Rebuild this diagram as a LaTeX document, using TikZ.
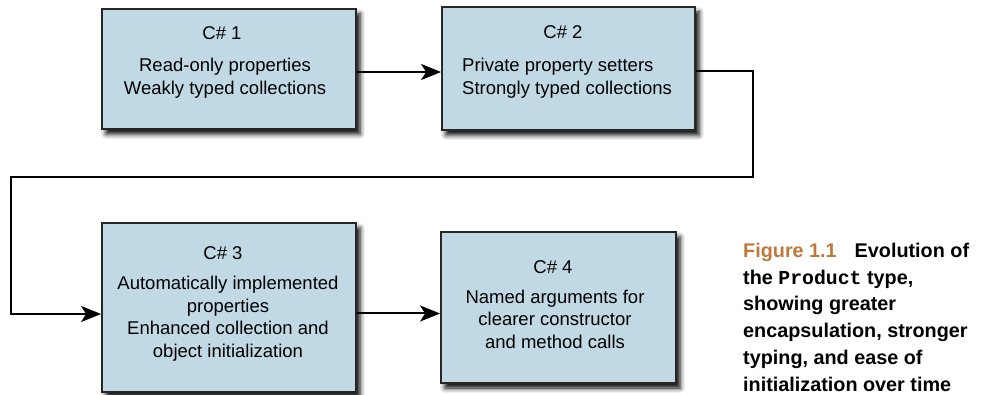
\documentclass[tikz,border=0pt]{standalone}
\usepackage{fontspec}
\setmainfont{Liberation Sans}
\newfontfamily\codefont{Liberation Mono}
\usetikzlibrary{arrows.meta,shadows.blur,positioning}
\definecolor{boxblue}{RGB}{193,217,229}
\definecolor{figbrown}{RGB}{190,120,60}

\tikzset{
  ver/.style={draw=black!85, line width=1.8pt, fill=boxblue, inner sep=0pt,
    blur shadow={shadow xshift=4pt, shadow yshift=-5pt, shadow blur radius=5pt, shadow opacity=100}},
  head/.style={inner sep=0pt, font=\fontsize{18.5}{22.5}\selectfont},
  body/.style={inner sep=0pt, font=\fontsize{18.5}{22.5}\selectfont},
  flow/.style={line width=2pt, -{Stealth[length=20pt, width=16pt, inset=5pt]}}
}

\begin{document}
\begin{tikzpicture}[x=1pt, y=-1pt]
        \useasboundingbox (0,0) rectangle (983,395);

        % Version boxes
        \node[ver, minimum width=254, minimum height=120] (v1) at (229,69) {};
        \node[ver, minimum width=253, minimum height=123] (v2) at (568.5,68.5) {};
        \node[ver, minimum width=254, minimum height=169] (v3) at (229,307.5) {};
        \node[ver, minimum width=235, minimum height=151] (v4) at (558.5,307.5) {};

        % Box texts
        \node[head] (h1) at (222,33) {C\# 1};
        \node[body, align=center] (b1) at (225,78) {Read-only properties\\Weakly typed collections};
        \node[head] (h2) at (563,32) {C\# 2};
        \node[body, align=left, anchor=west] (b2) at (462,78) {Private property setters\\Strongly typed collections};
        \node[head] (h3) at (223,253) {C\# 3};
        \node[body, align=center] (b3) at (228,318.5) {Automatically implemented\\properties\\Enhanced collection and\\object initialization};
        \node[head] (h4) at (553,267) {C\# 4};
        \node[body, align=center] (b4) at (555,319) {Named arguments for\\clearer constructor\\and method calls};

        % Connectors
        \coordinate (bend) at (753,177);
        \coordinate (back) at (11,177);
        \draw[flow] ([yshift=-3pt]v1.east) -- ([yshift=-3pt]v1.east -| v2.west);
        \draw[flow] ([yshift=-2.5pt]v2.east) -| (bend) -- (back) |- ([yshift=-6.5pt]v3.west);
        \draw[flow] ([yshift=-6pt]v3.east) -- ([yshift=-6pt]v3.east -| v4.west);

        % Caption
        \node[anchor=north west, inner sep=0pt, align=left,
              font=\bfseries\fontsize{19.8}{26.7}\selectfont] (cap) at (743,243)
          {\textcolor{figbrown}{Figure 1.1}\hspace{18pt}Evolution of\\
           the {\codefont\bfseries Product} type,\\
           showing greater\\
           encapsulation, stronger\\
           typing, and ease of\\
           initialization over time};
\end{tikzpicture}
\end{document}
